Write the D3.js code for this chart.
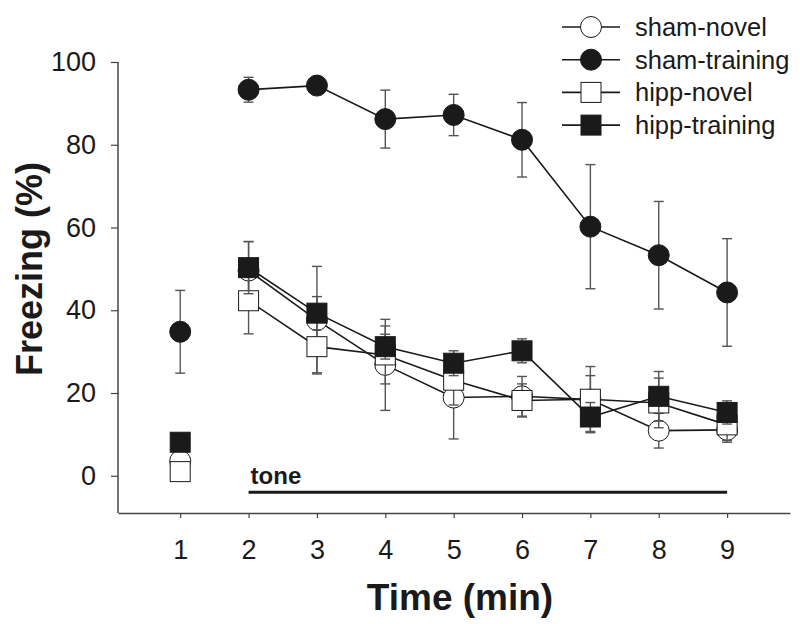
<!DOCTYPE html>
<html>
<head>
<meta charset="utf-8">
<script src="https://cdn.jsdelivr.net/npm/d3@7"></script>
<style>
  body { margin: 0; background: #fff; }
  text { font-family: "Liberation Sans", Arial, sans-serif; }
</style>
</head>
<body>
<div id="graph1"></div>
<script>
// freezing (%) over time, 4 groups, mean +/- sem
const times = [1, 2, 3, 4, 5, 6, 7, 8, 9];

const shamNovel       = [3.6, 49.6, 37.6, 26.8, 18.9, 19.2, 18.4, 10.9, 11.1];
const shamNovelErr    = [0, 7, 13, 11, 10, 4.8, 8, 4.2, 3];
const shamTraining    = [34.8, 93.3, 94.3, 86.2, 87.2, 81.2, 60.2, 53.3, 44.3];
const shamTrainingErr = [10, 3, 1, 7, 5, 9, 15, 13, 13];
const hippNovel       = [1, 42.3, 31.2, 29.2, 23.1, 18.2, 18.5, 17.6, 12.3];
const hippNovelErr    = [0, 8, 6.3, 7, 6, 4, 5.7, 6, 3.8];
const hippTraining    = [8.1, 50.3, 39.3, 31.2, 27.2, 30.2, 14.2, 19.2, 15.3];
const hippTrainingErr = [0, 6.3, 4, 3, 3, 2.9, 3.5, 6, 2.8];

const yTicks = [0, 20, 40, 60, 80, 100];

// tone bar: from min 2 to min 9
const toneStart = 2;
const toneEnd = 9;
const toneLevel = -4;

// series in draw order (later ones sit on top)
const series = [
    { name: "sham-training", values: shamTraining, err: shamTrainingErr, shape: "circle", fill: "#1a1a1a" },
    { name: "sham-novel",    values: shamNovel,    err: shamNovelErr,    shape: "circle", fill: "#fff" },
    { name: "hipp-novel",    values: hippNovel,    err: hippNovelErr,    shape: "square", fill: "#fff" },
    { name: "hipp-training", values: hippTraining, err: hippTrainingErr, shape: "square", fill: "#1a1a1a" }
];
const legendOrder = ["sham-novel", "sham-training", "hipp-novel", "hipp-training"];

const width = 800, height = 624;

let svg = d3.select("#graph1")
    .append("svg")
    .attr("width", width)
    .attr("height", height);

let x = d3.scaleLinear()
    .domain([0.09, 9.92])
    .range([118, 790]);

let y = d3.scaleLinear()
    .domain([-9, 100])
    .range([513, 62]);

// y axis
let yAxis = svg.append("g")
    .attr("transform", "translate(118,0)")
    .call(d3.axisLeft(y).tickValues(yTicks).tickSize(7).tickPadding(15).tickSizeOuter(0));
yAxis.select(".domain").remove();
yAxis.append("line")
    .attr("x1", 0).attr("x2", 0)
    .attr("y1", y(100)).attr("y2", y(-9))
    .attr("stroke", "#444").attr("stroke-width", 1.5);
yAxis.selectAll(".tick line").attr("stroke", "#444").attr("stroke-width", 1.2);
yAxis.selectAll(".tick text")
    .attr("fill", "#1a1a1a")
    .style("font-size", "27px");

// x axis
let xAxis = svg.append("g")
    .attr("transform", "translate(0,513)")
    .call(d3.axisBottom(x).tickValues(times).tickSize(5).tickPadding(22).tickSizeOuter(0));
xAxis.select(".domain").attr("stroke", "#444").attr("stroke-width", 1.5);
xAxis.selectAll(".tick line").attr("stroke", "#444").attr("stroke-width", 1.2);
xAxis.selectAll(".tick text")
    .attr("fill", "#1a1a1a")
    .style("font-size", "27px");

// axis titles
svg.append("text")
    .attr("transform", "translate(42,269) rotate(-90)")
    .style("text-anchor", "middle")
    .style("font-size", "36px")
    .style("font-weight", "bold")
    .attr("fill", "#1a1a1a")
    .text("Freezing (%)");

svg.append("text")
    .attr("x", 460)
    .attr("y", 610)
    .style("text-anchor", "middle")
    .style("font-size", "37px")
    .style("font-weight", "bold")
    .attr("fill", "#1a1a1a")
    .text("Time (min)");

// tone bar + label
svg.append("line")
    .attr("x1", x(toneStart)).attr("x2", x(toneEnd))
    .attr("y1", y(toneLevel)).attr("y2", y(toneLevel))
    .attr("stroke", "#1a1a1a").attr("stroke-width", 3);

svg.append("text")
    .attr("x", x(toneStart) + 2)
    .attr("y", y(toneLevel) - 8)
    .style("font-size", "24px")
    .style("font-weight", "bold")
    .attr("fill", "#1a1a1a")
    .text("tone");

// draws one marker into a group
function drawMarker(g, s, cx, cy) {
    if (s.shape == "circle") {
        g.append("circle")
            .attr("cx", cx).attr("cy", cy).attr("r", 10.5)
            .attr("fill", s.fill).attr("stroke", "#1a1a1a").attr("stroke-width", 1);
    } else {
        g.append("rect")
            .attr("x", cx - 10).attr("y", cy - 10)
            .attr("width", 20).attr("height", 20)
            .attr("fill", s.fill).attr("stroke", "#1a1a1a").attr("stroke-width", 1);
    }
}

let line = d3.line()
    .x(function(d) { return x(d.t); })
    .y(function(d) { return y(d.v); });

series.forEach(function(s) {
    let pts = times.map(function(t, i) { return { t: t, v: s.values[i], e: s.err[i] }; });
    let g = svg.append("g");

    // only the tone period is joined up
    g.append("path")
        .datum(pts.filter(function(d) { return d.t >= toneStart; }))
        .attr("d", line)
        .attr("fill", "none")
        .attr("stroke", "#1a1a1a")
        .attr("stroke-width", 1.6);

    // error bars
    let eb = g.selectAll(".eb").data(pts.filter(function(d) { return d.e > 0; }))
        .enter().append("g").attr("class", "eb")
        .attr("stroke", "#555").attr("stroke-width", 1.4);
    eb.append("line")
        .attr("x1", function(d) { return x(d.t); }).attr("x2", function(d) { return x(d.t); })
        .attr("y1", function(d) { return y(d.v - d.e); }).attr("y2", function(d) { return y(d.v + d.e); });
    eb.append("line")
        .attr("x1", function(d) { return x(d.t) - 5; }).attr("x2", function(d) { return x(d.t) + 5; })
        .attr("y1", function(d) { return y(d.v + d.e); }).attr("y2", function(d) { return y(d.v + d.e); });
    eb.append("line")
        .attr("x1", function(d) { return x(d.t) - 5; }).attr("x2", function(d) { return x(d.t) + 5; })
        .attr("y1", function(d) { return y(d.v - d.e); }).attr("y2", function(d) { return y(d.v - d.e); });

    pts.forEach(function(d) { drawMarker(g, s, x(d.t), y(d.v)); });
});

// legend - top right
let legend = svg.append("g");
legendOrder.forEach(function(name, i) {
    let s = series.find(function(d) { return d.name == name; });
    let ly = 27 + i * 32.7;
    let row = legend.append("g");
    row.append("line")
        .attr("x1", 562).attr("x2", 620)
        .attr("y1", ly).attr("y2", ly)
        .attr("stroke", "#1a1a1a").attr("stroke-width", 1.6);
    drawMarker(row, s, 591, ly);
    row.append("text")
        .attr("x", 635)
        .attr("y", ly)
        .attr("dy", "0.35em")
        .style("font-size", "25.5px")
        .attr("fill", "#1a1a1a")
        .text(name);
});
</script>
</body>
</html>
